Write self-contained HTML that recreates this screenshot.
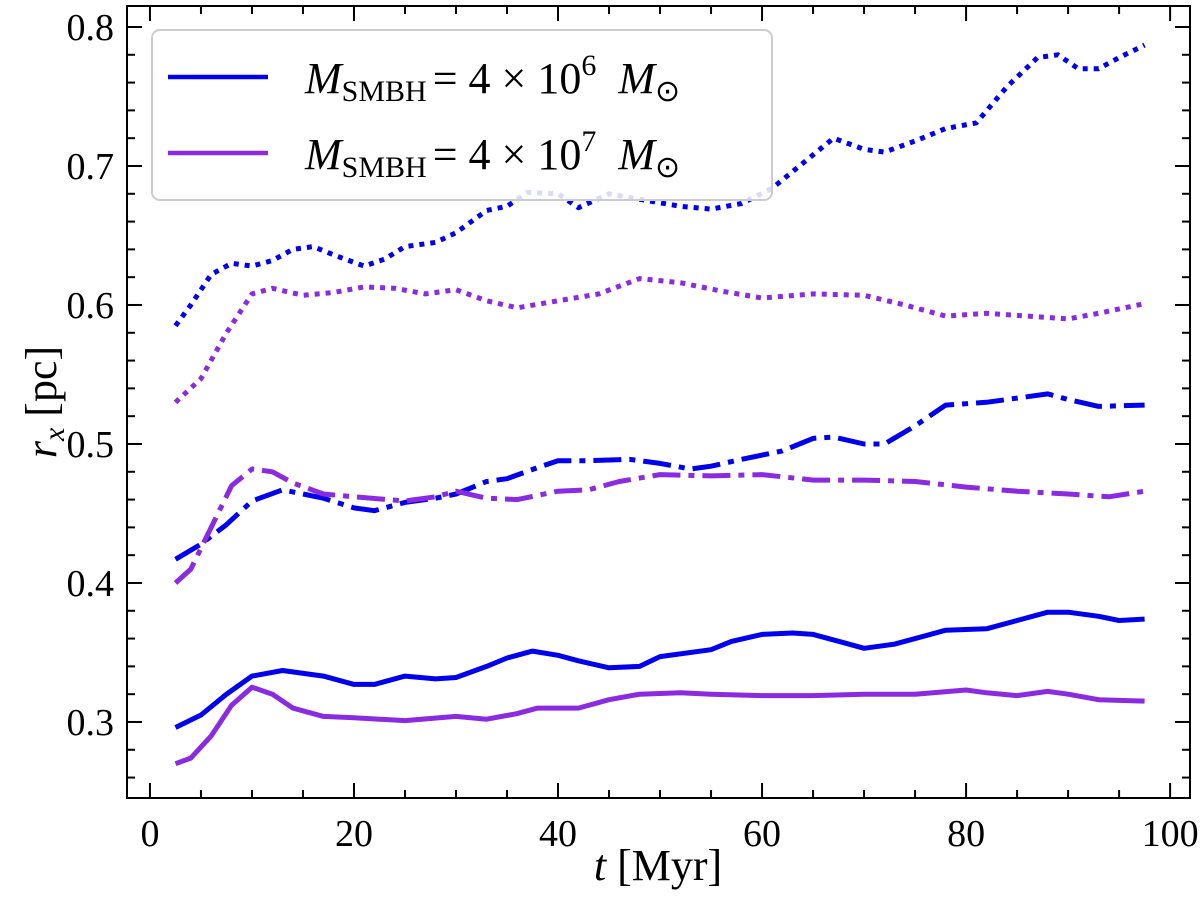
<!DOCTYPE html>
<html><head><meta charset="utf-8"><style>
html,body{margin:0;padding:0;background:#fff;}
svg{display:block;font-family:"Liberation Serif",serif;}
</style></head><body>
<svg id="chart" width="1200" height="908" xmlns="http://www.w3.org/2000/svg">
<g id="series"></g>
<rect x="127" y="6" width="1063" height="792" fill="none" stroke="#000" stroke-width="2"/>
<g id="ticks"></g>
<text x="658" y="880" font-size="44" text-anchor="middle"><tspan font-style="italic">t</tspan> [Myr]</text>
<text transform="translate(56,402) rotate(-90)" font-size="44" text-anchor="middle"><tspan font-style="italic">r</tspan><tspan font-style="italic" font-size="30" dy="8">x</tspan><tspan dy="-8"> [pc]</tspan></text>
<g>
<rect x="152" y="30" width="620" height="170" rx="8" fill="#fff" fill-opacity="0.85" stroke="#ccc" stroke-width="2"/>
<line x1="168" y1="77" x2="268" y2="77" stroke="#0000ee" stroke-width="4.5"/>
<text x="305" y="93" font-size="44"><tspan font-style="italic">M</tspan><tspan font-size="30" dy="8">SMBH</tspan><tspan dy="-8" dx="6">= 4 × 10</tspan><tspan font-size="30" dy="-18">6</tspan><tspan dy="18" dx="22" font-style="italic">M</tspan><tspan font-size="30" dy="8">⊙</tspan></text>
<line x1="168" y1="153" x2="268" y2="153" stroke="#8a2be2" stroke-width="4.5"/>
<text x="305" y="169" font-size="44"><tspan font-style="italic">M</tspan><tspan font-size="30" dy="8">SMBH</tspan><tspan dy="-8" dx="6">= 4 × 10</tspan><tspan font-size="30" dy="-18">7</tspan><tspan dy="18" dx="22" font-style="italic">M</tspan><tspan font-size="30" dy="8">⊙</tspan></text>
</g>
</svg>
<script>
const xTicks=[0,20,40,60,80,100];
const yTicks=[0.3,0.4,0.5,0.6,0.7,0.8];
const yTickLabels=["0.3","0.4","0.5","0.6","0.7","0.8"];
const blueSolidT=[2.5,5,7.5,10,13,17,20,22,25,28,30,33,35,37.5,40,42,45,48,50,55,57,60,63,65,68,70,73,75,78,82,85,88,90,93,95,97.5];
const blueSolidV=[0.296,0.305,0.32,0.333,0.337,0.333,0.327,0.327,0.333,0.331,0.332,0.34,0.346,0.351,0.348,0.344,0.339,0.34,0.347,0.352,0.358,0.363,0.364,0.363,0.357,0.353,0.356,0.36,0.366,0.367,0.373,0.379,0.379,0.376,0.373,0.374];
const purpleSolidT=[2.5,4,6,8,10,12,14,17,20,25,30,33,36,38,42,45,48,52,55,60,65,70,75,80,82,85,88,90,93,97.5];
const purpleSolidV=[0.27,0.274,0.29,0.312,0.325,0.32,0.31,0.304,0.303,0.301,0.304,0.302,0.306,0.31,0.31,0.316,0.32,0.321,0.32,0.319,0.319,0.32,0.32,0.323,0.321,0.319,0.322,0.32,0.316,0.315];
const blueDashDotT=[2.5,5,7.5,10,13,17,20,22,25,28,30,33,35,38,40,43,47,50,53,55,58,62,65,67,70,72,75,78,82,85,88,90,93,97.5];
const blueDashDotV=[0.417,0.428,0.442,0.459,0.467,0.461,0.454,0.452,0.458,0.461,0.464,0.473,0.475,0.483,0.488,0.488,0.489,0.486,0.482,0.484,0.489,0.495,0.504,0.505,0.5,0.5,0.513,0.528,0.53,0.533,0.536,0.532,0.527,0.528];
const purpleDashDotT=[2.5,4,6,8,10,12,14,17,20,25,28,30,33,36,40,43,46,50,55,60,65,70,75,80,85,90,94,97.5];
const purpleDashDotV=[0.4,0.41,0.44,0.47,0.482,0.48,0.472,0.464,0.462,0.459,0.462,0.466,0.461,0.46,0.466,0.467,0.473,0.478,0.477,0.478,0.474,0.474,0.473,0.469,0.466,0.464,0.462,0.466];
const blueDotT=[2.5,4,6,8,10,12,14,16,18,21,23,25,28,30,33,35,37,40,42,45,48,52,55,58,61,64,67,70,72,75,78,81,84,87,89,91,93,95,97.5];
const blueDotV=[0.585,0.6,0.622,0.63,0.628,0.632,0.64,0.642,0.636,0.628,0.633,0.642,0.645,0.652,0.668,0.671,0.681,0.68,0.67,0.68,0.676,0.671,0.669,0.673,0.684,0.702,0.72,0.712,0.71,0.718,0.727,0.731,0.757,0.778,0.78,0.77,0.77,0.778,0.787];
const purpleDotT=[2.5,5,7.5,10,12,15,18,21,24,27,30,33,36,40,44,48,52,56,60,65,70,74,78,82,86,90,93,97.5];
const purpleDotV=[0.53,0.547,0.58,0.608,0.612,0.607,0.609,0.613,0.612,0.608,0.611,0.603,0.598,0.603,0.608,0.619,0.616,0.61,0.605,0.608,0.607,0.6,0.592,0.594,0.592,0.59,0.594,0.601];

const NS="http://www.w3.org/2000/svg";
const X0=127,X1=1190,Y0=798,Y1=6;
const xMin=-2.25,xMax=101.95,yMin=0.2453,yMax=0.8151;
function sx(v){return X0+(v-xMin)/(xMax-xMin)*(X1-X0);}
function sy(v){return Y0-(v-yMin)/(yMax-yMin)*(Y0-Y1);}

const sg=document.getElementById('series');
function addLine(ts,vs,color,dash,name){
  const p=document.createElementNS(NS,'polyline');
  p.setAttribute('points',ts.map((t,i)=>sx(t).toFixed(1)+','+sy(vs[i]).toFixed(1)).join(' '));
  p.setAttribute('fill','none');p.setAttribute('stroke',color);p.setAttribute('stroke-width','5');
  p.setAttribute('stroke-linejoin','round');
  if(dash)p.setAttribute('stroke-dasharray',dash);
  
  
  sg.appendChild(p);
}
addLine(blueDotT,blueDotV,'#0000ee','5 6','line-4e6-dotted');
addLine(purpleDotT,purpleDotV,'#8a2be2','5 6','line-4e7-dotted');
addLine(blueDashDotT,blueDashDotV,'#0000ee','28 8 6 8','line-4e6-dashdot');
addLine(purpleDashDotT,purpleDashDotV,'#8a2be2','28 8 6 8','line-4e7-dashdot');
addLine(blueSolidT,blueSolidV,'#0000ee',null,'line-4e6-solid');
addLine(purpleSolidT,purpleSolidV,'#8a2be2',null,'line-4e7-solid');

const tg=document.getElementById('ticks');
function ln(x1,y1,x2,y2,name){
  const l=document.createElementNS(NS,'line');
  l.setAttribute('x1',x1);l.setAttribute('y1',y1);l.setAttribute('x2',x2);l.setAttribute('y2',y2);
  l.setAttribute('stroke','#000');l.setAttribute('stroke-width','2');
  
  
  tg.appendChild(l);
}
function txt(x,y,s,anchor,name){
  const t=document.createElementNS(NS,'text');
  t.setAttribute('x',x);t.setAttribute('y',y);t.setAttribute('font-size','38');t.setAttribute('text-anchor',anchor);
  t.textContent=s;
  
  
  tg.appendChild(t);
}
for(let v=0;v<=100;v+=5){
  const x=sx(v),L=(v%20===0)?15:8;
  ln(x,Y0,x,Y0-L,'x-tick');ln(x,Y1,x,Y1+L,'x-tick-top');
}
xTicks.forEach(v=>txt(sx(v),846,String(v),'middle','x-tick-label'));
for(let k=13;k<=40;k++){
  const v=k*0.02;if(v<yMin||v>yMax)continue;
  const y=sy(v),L=(k%5===0)?15:8;
  ln(X0,y,X0+L,y,'y-tick');ln(X1,y,X1-L,y,'y-tick-right');
}
yTicks.forEach((v,i)=>txt(114,sy(v)+13,yTickLabels[i],'end','y-tick-label'));
</script>
</body></html>
